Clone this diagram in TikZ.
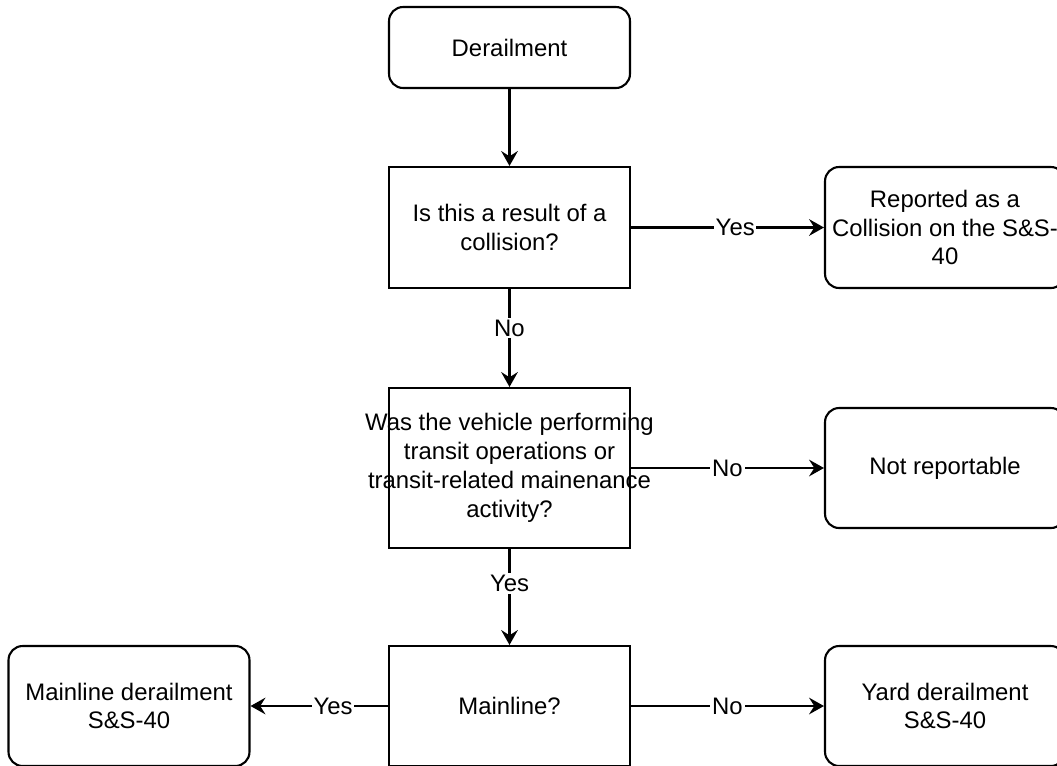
\documentclass[tikz,border=0pt]{standalone}
\usepackage{fontspec}
\setmainfont{Liberation Sans}
\usetikzlibrary{arrows.meta}
\tikzset{
  box/.style={draw, line width=1.2pt, minimum width=4.82cm, align=center, inner sep=1pt, font=\fontsize{13.6}{16.4}\selectfont},
  rbox/.style={box, rounded corners=8pt},
  lbl/.style={fill=white, inner sep=1pt, font=\fontsize{13.6}{16.4}\selectfont},
}
\begin{document}
\begin{tikzpicture}[x=0.02cm, y=-0.02cm, >={Stealth[length=8.5pt,width=9.5pt,inset=3pt]}, line width=1.2pt]
\path[use as bounding box, clip](0,0) rectangle (1057,765);
\node[rbox, minimum height=1.62cm](derail) at (509.5,47.5){Derailment};
\node[box, minimum height=2.42cm](collq) at (509.5,227.5){Is this a result of a\\collision?};
\node[rbox, minimum height=2.42cm, minimum width=4.8cm](coll) at (945,227.5){Reported as a\\Collision on the S\&S-\\40};
% text wider than the box: put it on as a label
\node[box, minimum height=3.2cm, label={[lbl, fill=none, align=center]center:Was the vehicle performing\\transit operations or\\transit-related mainenance\\activity?}](transq) at (509.5,468){};
\node[rbox, minimum height=2.4cm, minimum width=4.8cm](notrep) at (945,468){Not reportable};
\node[box, minimum height=2.4cm](mainq) at (509.5,706){Mainline?};
\node[rbox, minimum height=2.4cm](mainder) at (129,706){Mainline derailment\\S\&S-40};
\node[rbox, minimum height=2.4cm, minimum width=4.8cm](yardder) at (945,706){Yard derailment\\S\&S-40};

\draw[->](derail)--(collq);
\draw[->](collq)--(coll)node[lbl,pos=.54]{Yes};
\draw[->](collq)--(transq)node[lbl,pos=.4]{No};
\draw[->](transq)--(notrep)node[lbl,pos=.5]{No};
\draw[->](transq)--(mainq)node[lbl,pos=.36]{Yes};
\draw[->](mainq)--(mainder)node[lbl,pos=.4]{Yes};
\draw[->](mainq)--(yardder)node[lbl,pos=.5]{No};

\end{tikzpicture}
\end{document}
